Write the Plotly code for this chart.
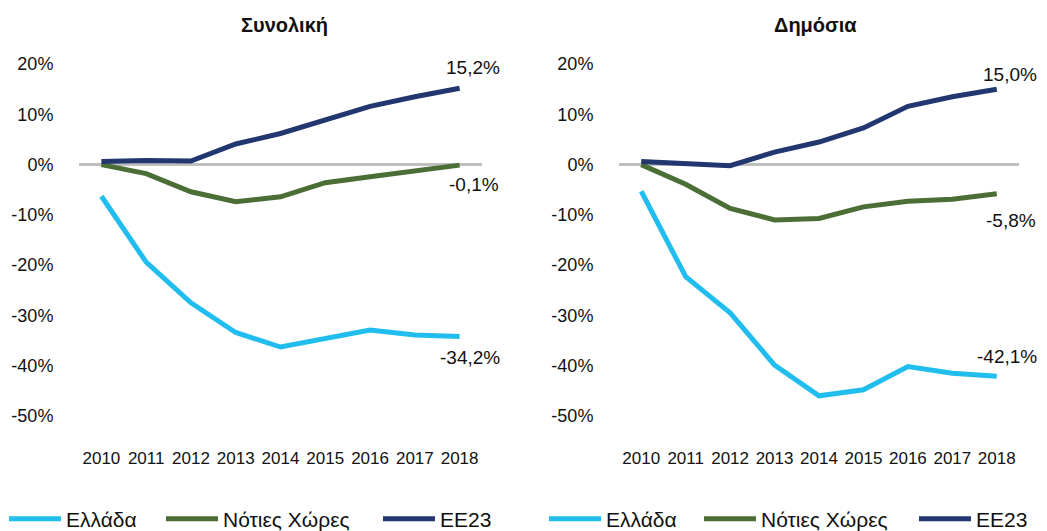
import plotly.graph_objects as go

years = ["2010", "2011", "2012", "2013", "2014", "2015", "2016", "2017", "2018"]
series_names = ["Ελλάδα", "Νότιες Χώρες", "ΕΕ23"]

# Συνολική (total)
total_greece = [-6.3, -19.4, -27.5, -33.4, -36.3, -34.7, -32.9, -33.9, -34.2]
total_south = [0.0, -1.8, -5.4, -7.4, -6.4, -3.6, -2.4, -1.2, -0.1]
total_eu23 = [0.6, 0.8, 0.7, 4.1, 6.2, 9.0, 11.6, 13.5, 15.2]

# Δημόσια (public)
public_greece = [-5.3, -22.3, -29.5, -39.9, -46.0, -44.8, -40.2, -41.5, -42.1]
public_south = [0.0, -3.9, -8.7, -11.0, -10.7, -8.4, -7.3, -6.9, -5.8]
public_eu23 = [0.6, 0.3, -0.2, 2.5, 4.5, 7.3, 11.6, 13.5, 15.0]

titles = ["Συνολική", "Δημόσια"]
ytick_vals = [20, 10, 0, -10, -20, -30, -40, -50]
ytick_text = ["20%", "10%", "0%", "-10%", "-20%", "-30%", "-40%", "-50%"]

colors = ["#21BDEE", "#4A6E35", "#22376F"]
FONT = "Liberation Sans, Arial, sans-serif"
W, H = 1047, 531
ML, MR, MT, MB = 79, 28, 39, 90
PW = W - ML - MR
PH = H - MT - MB

def px2x(px):
    return (px - ML) / PW

def py2y(py):
    return (H - MB - py) / PH

fig = go.Figure()

panels = [
    (titles[0], [total_greece, total_south, total_eu23], "x", "y"),
    (titles[1], [public_greece, public_south, public_eu23], "x2", "y2"),
]
# one legend per entry so each can sit where the reference puts it
legend_text_x = [[67, 224, 441], [607, 762, 977]]

legend_layout = {}
k = 0
for p, (title, data, xa, ya) in enumerate(panels):
    for i, (name, vals, col) in enumerate(zip(series_names, data, colors)):
        k += 1
        lg = "legend" if k == 1 else "legend%d" % k
        fig.add_trace(go.Scatter(
            x=years, y=vals, name=name, mode="lines",
            line=dict(color=col, width=5), xaxis=xa, yaxis=ya,
            legend=lg, hoverinfo="skip",
        ))
        legend_layout[lg] = dict(
            orientation="h", x=px2x(legend_text_x[p][i] - 63), xanchor="left",
            y=py2y(519), yanchor="middle",
            font=dict(family=FONT, size=21, color="#111"), itemwidth=52,
            bgcolor="rgba(0,0,0,0)",
        )

axis_common_x = dict(
    type="category", range=[-0.5, 8.5], showgrid=False, zeroline=False,
    showline=False, ticks="outside", ticklen=2, tickcolor="rgba(0,0,0,0)",
    tickfont=dict(family=FONT, size=17, color="#111"),
)
axis_common_y = dict(
    range=[-55, 25], tickvals=ytick_vals, ticktext=ytick_text,
    showgrid=False, zeroline=True, zerolinecolor="#BFBFBF", zerolinewidth=3,
    showline=False, ticks="outside", ticklen=21, tickcolor="rgba(0,0,0,0)",
    tickfont=dict(family=FONT, size=18, color="#111"),
)

fig.update_layout(
    width=W, height=H,
    margin=dict(l=ML, r=MR, t=MT, b=MB, autoexpand=False),
    paper_bgcolor="white", plot_bgcolor="white",
    xaxis=dict(domain=[0, px2x(482)], anchor="y", **axis_common_x),
    yaxis=dict(domain=[0, 1], anchor="x", **axis_common_y),
    xaxis2=dict(domain=[px2x(619), px2x(1019)], anchor="y2", **axis_common_x),
    yaxis2=dict(domain=[0, 1], anchor="x2", **axis_common_y),
    showlegend=True,
    **legend_layout,
)

def fmt(v):
    return ("%.1f" % v).replace(".", ",") + "%"

# panel titles
for title, cx in zip(titles, [284, 815]):
    fig.add_annotation(text="<b>%s</b>" % title, x=px2x(cx), xref="paper", xanchor="center",
                       y=py2y(25), yref="paper", yanchor="middle", showarrow=False,
                       font=dict(family=FONT, size=20, color="#111"))

# end-of-line labels (pixel offsets from the last point)
label_shifts = {
    ("x", 0): (10, -21), ("x", 1): (14, -19), ("x", 2): (13, 21),
    ("x2", 0): (10, 20), ("x2", 1): (14, -27), ("x2", 2): (13, 15),
}
last = len(years) - 1
for title, data, xa, ya in panels:
    for i, vals in enumerate(data):
        dx, dy = label_shifts[(xa, i)]
        fig.add_annotation(text=fmt(vals[-1]), x=last, y=vals[-1], xref=xa, yref=ya,
                           showarrow=False, xshift=dx, yshift=dy,
                           font=dict(family=FONT, size=19, color="#111"))

fig.write_html("out.html", config={"displayModeBar": False},
               post_script="document.body.style.margin='0';document.body.style.overflow='hidden';")
